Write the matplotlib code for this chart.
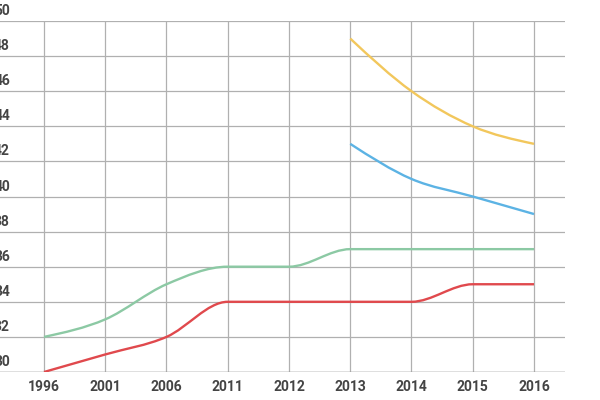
import matplotlib
matplotlib.use('Agg')
import matplotlib.pyplot as plt
import matplotlib.transforms as mtransforms
from matplotlib.path import Path
import matplotlib.patches as mpatches
import numpy as np

# ==================== 数据 ====================
years = ['1996', '2001', '2006', '2011', '2012', '2013', '2014', '2015', '2016']
green = [32, 33, 35, 36, 36, 37, 37, 37, 37]
red = [30, 31, 32, 34, 34, 34, 34, 35, 35]
yellow_years = ['2013', '2014', '2015', '2016']
yellow = [49, 46, 44, 43]
blue_years = ['2013', '2014', '2015', '2016']
blue = [43, 41, 40, 39]
y_ticks = list(range(30, 51, 2))

COLORS = {
    "green": "#8cc9a4",
    "red": "#e0494d",
    "yellow": "#f2c75c",
    "blue": "#5cb3e4",
}

plt.rcParams['font.family'] = ['Roboto', 'DejaVu Sans']


def monotone_path(xs, ys):
    """单调三次曲线（与 d3 curveMonotoneX 相同）"""
    xs = np.asarray(xs, dtype=float)
    ys = np.asarray(ys, dtype=float)
    n = len(xs)
    h = np.diff(xs)
    s = np.diff(ys) / h
    t = np.zeros(n)
    for i in range(1, n - 1):
        h0, h1 = h[i - 1], h[i]
        s0, s1 = s[i - 1], s[i]
        p = (s0 * h1 + s1 * h0) / (h0 + h1)
        t[i] = (np.sign(s0) + np.sign(s1)) * min(abs(s0), abs(s1), 0.5 * abs(p))
    t[0] = (3 * s[0] - t[1]) / 2
    t[-1] = (3 * s[-1] - t[-2]) / 2
    verts = [(xs[0], ys[0])]
    codes = [Path.MOVETO]
    for i in range(n - 1):
        dx = h[i] / 3
        verts += [(xs[i] + dx, ys[i] + dx * t[i]),
                  (xs[i + 1] - dx, ys[i + 1] - dx * t[i + 1]),
                  (xs[i + 1], ys[i + 1])]
        codes += [Path.CURVE4] * 3
    return Path(verts, codes)


fig = plt.figure(figsize=(6, 4), dpi=100)
ax = fig.add_axes([0, 28 / 400, 565 / 600, 351 / 400])

x_all = np.arange(len(years))
ax.set_xlim(-44 / 61.25, 8 + 31 / 61.25)
ax.set_ylim(30, 50)

# 网格
for yv in y_ticks:
    ax.axhline(yv, color='#b0b0b0', linewidth=0.9, zorder=1)
for xv in x_all:
    ax.axvline(xv, color='#b0b0b0', linewidth=0.9, zorder=1)
ax.axhline(30, color='#888888', linewidth=1.0, zorder=2)

for name, xs_lbl, vals in [("green", years, green), ("red", years, red),
                           ("yellow", yellow_years, yellow), ("blue", blue_years, blue)]:
    xs = [years.index(v) for v in xs_lbl]
    patch = mpatches.PathPatch(monotone_path(xs, vals), facecolor='none',
                               edgecolor=COLORS[name], linewidth=1.7, zorder=3,
                               capstyle='butt')
    ax.add_patch(patch)

for sp in ax.spines.values():
    sp.set_visible(False)
ax.set_xticks(x_all)
ax.set_xticklabels(years, fontsize=10, fontweight='bold', color='#444444')
ax.tick_params(axis='x', length=0, pad=6)
ax.set_yticks([])

# y 轴标签（在网格线上方，左侧被裁切）
trans = mtransforms.blended_transform_factory(fig.transFigure, ax.transData)
for yv in y_ticks:
    ax.text(10 / 600, yv + 0.17, str(yv), transform=trans,
            ha='right', va='bottom', fontsize=10, fontweight='bold', color='#444444')

fig.savefig('out.png', dpi=100, facecolor='white')
